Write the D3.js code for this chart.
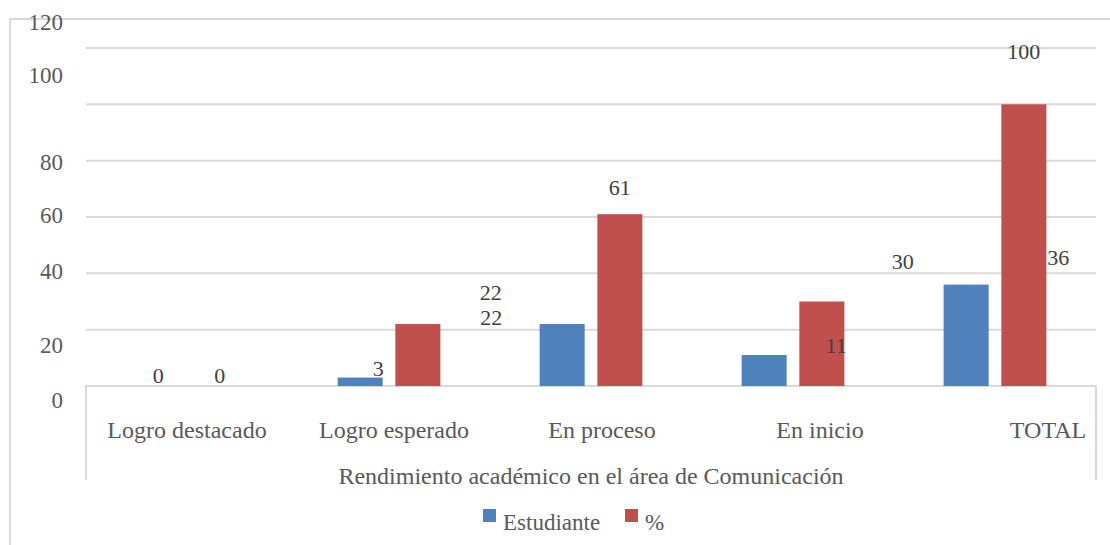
<!DOCTYPE html>
<html>
<head>
<meta charset="utf-8">
<script src="https://cdn.jsdelivr.net/npm/d3@7"></script>
<style>
  body { margin: 0; background: #fff; }
</style>
</head>
<body>
<svg id="chart" width="1110" height="545"></svg>
<script>
const width = 1110;
const height = 545;

// data
const categories = ["Logro destacado", "Logro esperado", "En proceso", "En inicio", "TOTAL"];
const series = ["Estudiante", "%"];
const estudiante = [0, 3, 22, 11, 36];
const porcentaje = [0, 22, 61, 30, 100];
const yTicks = [0, 20, 40, 60, 80, 100, 120];
const axisTitle = "Rendimiento académico en el área de Comunicación";

// layout tweaks (labels in the source sit off their default spots)
const tickShift = { 0: 15, 20: 16, 40: -1, 60: -1, 80: 2, 100: -28, 120: -25 };
const catShift = [0, 5, 11, 27, 53];
const estShift = [[0, 5], [18, 6], [-71, 9], [72, 6], [92, -12]];
const pctShift = [[4, 5], [73, -16], [0, -11], [81, -25], [0, -37]];

const color = d3.scaleOrdinal().domain(series).range(["#4f81bd", "#c0504d"]);
const grid = "#d9d9d9";
const serif = "'Liberation Serif', 'Times New Roman', Times, 'DejaVu Serif', serif";

const svg = d3.select("#chart")
  .attr("font-family", serif)
  .style("font-family", serif);

// chart frame
svg.append("path")
  .attr("d", `M10,${height} V19 H${width}`)
  .attr("fill", "none")
  .attr("stroke", grid)
  .attr("stroke-width", 2);

const x = d3.scaleBand().domain(categories).range([86, 1096]);
const x1 = d3.scaleBand().domain(series).range([0, x.bandwidth()])
  .paddingInner(0.22).paddingOuter(0.86);
const y = d3.scaleLinear().domain([0, 120]).range([386, 48]);

// gridlines
svg.append("g")
  .selectAll("line")
  .data(yTicks.filter(d => d > 0))
  .join("line")
  .attr("x1", x.range()[0])
  .attr("x2", x.range()[1])
  .attr("y1", d => y(d))
  .attr("y2", d => y(d))
  .attr("stroke", grid)
  .attr("stroke-width", 2);

// y tick labels
svg.append("g")
  .selectAll("text")
  .data(yTicks)
  .join("text")
  .attr("x", 63)
  .attr("y", d => y(d) + 7 + tickShift[d])
  .attr("text-anchor", "end")
  .attr("fill", "#595959")
  .style("font-size", "23px")
  .text(d => d);

// category axis box
svg.append("path")
  .attr("d", `M${x.range()[0]},480 V${y(0)} H${x.range()[1]} V480`)
  .attr("fill", "none")
  .attr("stroke", grid)
  .attr("stroke-width", 2);

// bars
const rows = categories.map((c, i) => ({ c, i, vals: [estudiante[i], porcentaje[i]] }));

const groups = svg.append("g")
  .selectAll("g")
  .data(rows)
  .join("g")
  .attr("transform", d => `translate(${x(d.c)},0)`);

groups.selectAll("rect")
  .data(d => series.map((s, k) => ({ s, v: d.vals[k] })))
  .join("rect")
  .attr("x", d => x1(d.s))
  .attr("width", x1.bandwidth())
  .attr("y", d => y(d.v))
  .attr("height", d => y(0) - y(d.v))
  .attr("fill", d => color(d.s));

// value labels
const labels = [];
rows.forEach(r => {
  series.forEach((s, k) => {
    const sh = k === 0 ? estShift[r.i] : pctShift[r.i];
    labels.push({
      v: r.vals[k],
      x: x(r.c) + x1(s) + x1.bandwidth() / 2 + sh[0],
      y: y(r.vals[k]) - 8 + sh[1]
    });
  });
});

svg.append("g")
  .selectAll("text")
  .data(labels)
  .join("text")
  .attr("x", d => d.x)
  .attr("y", d => d.y)
  .attr("text-anchor", "middle")
  .attr("fill", "#404040")
  .style("font-size", "22px")
  .text(d => d.v);

// category labels
svg.append("g")
  .selectAll("text")
  .data(categories)
  .join("text")
  .attr("x", (d, i) => x(d) + x.bandwidth() / 2 + catShift[i])
  .attr("y", 438)
  .attr("text-anchor", "middle")
  .attr("fill", "#595959")
  .style("font-size", "24px")
  .text(d => d);

// axis title
svg.append("text")
  .attr("x", (x.range()[0] + x.range()[1]) / 2)
  .attr("y", 484)
  .attr("text-anchor", "middle")
  .attr("fill", "#595959")
  .style("font-size", "24px")
  .text(axisTitle);

// legend
const legendX = [483, 625];
const legend = svg.append("g")
  .selectAll("g")
  .data(series)
  .join("g")
  .attr("transform", (d, i) => `translate(${legendX[i]},509)`);

legend.append("rect")
  .attr("width", 13)
  .attr("height", 13)
  .attr("fill", d => color(d));

legend.append("text")
  .attr("x", 20)
  .attr("y", 21)
  .attr("fill", "#595959")
  .style("font-size", "23px")
  .text(d => d);
</script>
</body>
</html>
